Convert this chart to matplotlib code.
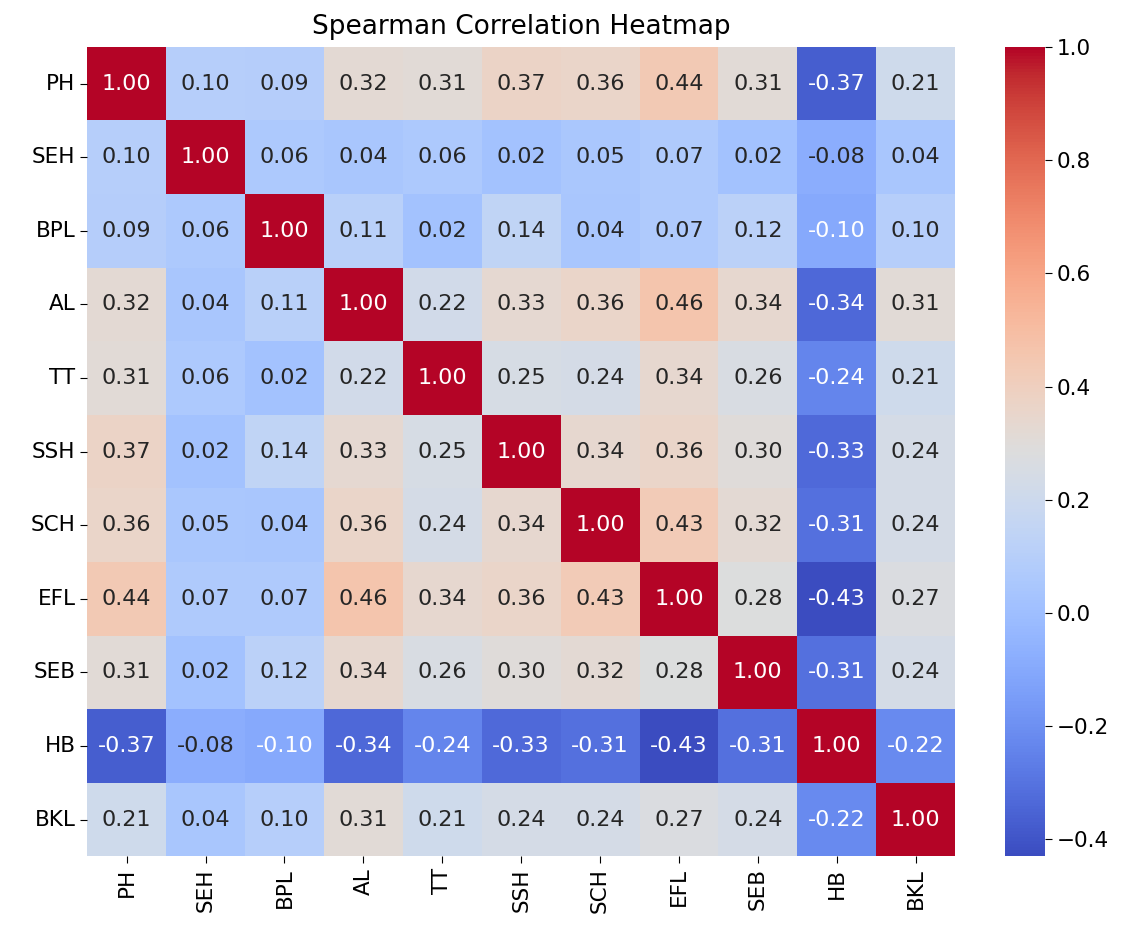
import numpy as np
import matplotlib
matplotlib.use('Agg')
import matplotlib.pyplot as plt
import seaborn as sns

labels = ['PH', 'SEH', 'BPL', 'AL', 'TT', 'SSH', 'SCH', 'EFL', 'SEB', 'HB', 'BKL']

corr = np.array([
    [1.00, 0.10, 0.09, 0.32, 0.31, 0.37, 0.36, 0.44, 0.31, -0.37, 0.21],
    [0.10, 1.00, 0.06, 0.04, 0.06, 0.02, 0.05, 0.07, 0.02, -0.08, 0.04],
    [0.09, 0.06, 1.00, 0.11, 0.02, 0.14, 0.04, 0.07, 0.12, -0.10, 0.10],
    [0.32, 0.04, 0.11, 1.00, 0.22, 0.33, 0.36, 0.46, 0.34, -0.34, 0.31],
    [0.31, 0.06, 0.02, 0.22, 1.00, 0.25, 0.24, 0.34, 0.26, -0.24, 0.21],
    [0.37, 0.02, 0.14, 0.33, 0.25, 1.00, 0.34, 0.36, 0.30, -0.33, 0.24],
    [0.36, 0.05, 0.04, 0.36, 0.24, 0.34, 1.00, 0.43, 0.32, -0.31, 0.24],
    [0.44, 0.07, 0.07, 0.46, 0.34, 0.36, 0.43, 1.00, 0.28, -0.43, 0.27],
    [0.31, 0.02, 0.12, 0.34, 0.26, 0.30, 0.32, 0.28, 1.00, -0.31, 0.24],
    [-0.37, -0.08, -0.10, -0.34, -0.24, -0.33, -0.31, -0.43, -0.31, 1.00, -0.22],
    [0.21, 0.04, 0.10, 0.31, 0.21, 0.24, 0.24, 0.27, 0.24, -0.22, 1.00],
])

fig = plt.figure(figsize=(11.33, 9.36), dpi=100)
ax = fig.add_axes([0.077, 0.085, 0.766, 0.865])
cax = fig.add_axes([0.887, 0.085, 0.035, 0.865])

sns.heatmap(corr, annot=True, fmt='.2f', cmap='coolwarm', ax=ax, cbar_ax=cax,
            xticklabels=labels, yticklabels=labels, annot_kws={'fontsize': 16})

ax.set_title('Spearman Correlation Heatmap', fontsize=19, pad=9)
ax.tick_params(axis='both', labelsize=15.5, length=5)
ax.set_yticklabels(labels, rotation=0)
ax.set_xticklabels(labels, rotation=90)
cax.tick_params(labelsize=15.5, length=5)

fig.savefig('out.png', dpi=100)
